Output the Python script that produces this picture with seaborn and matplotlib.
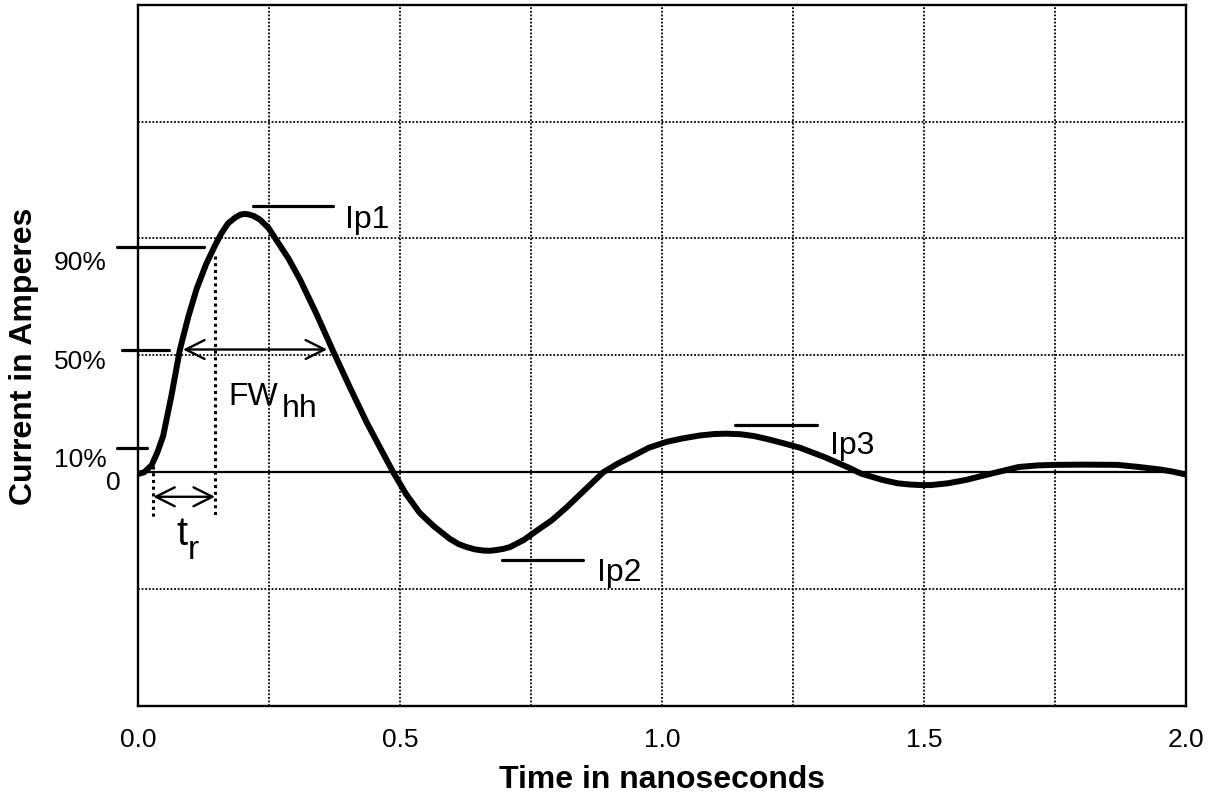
"""Pulse current waveform with rise time / FWhh annotations."""

import numpy as np
import pandas as pd
import matplotlib
matplotlib.use('Agg')
import matplotlib.pyplot as plt
import seaborn as sns


# Waveform (time in ns, current in grid units)
time_ns = [0.0, 0.012, 0.026, 0.037, 0.048, 0.064, 0.080, 0.096, 0.112, 0.130,
           0.147, 0.160, 0.172, 0.186, 0.196, 0.204, 0.212, 0.222, 0.233, 0.249,
           0.265, 0.287, 0.309, 0.340, 0.373, 0.405, 0.436, 0.462, 0.487, 0.512,
           0.538, 0.564, 0.595, 0.612, 0.627, 0.643, 0.659, 0.672, 0.685, 0.698,
           0.710, 0.736, 0.761, 0.790, 0.818, 0.853, 0.888, 0.916, 0.945, 0.975,
           1.009, 1.040, 1.073, 1.100, 1.123, 1.150, 1.175, 1.200, 1.230, 1.263,
           1.310, 1.356, 1.379, 1.420, 1.450, 1.473, 1.493, 1.513, 1.545, 1.580,
           1.630, 1.681, 1.715, 1.748, 1.810, 1.869, 1.910, 1.950, 1.975, 2.000]
current = [-0.015, 0.0, 0.06, 0.17, 0.31, 0.66, 1.05, 1.33, 1.57, 1.78,
           1.94, 2.05, 2.13, 2.18, 2.205, 2.21, 2.205, 2.19, 2.16, 2.09,
           1.98, 1.83, 1.65, 1.36, 1.03, 0.72, 0.43, 0.21, 0.0, -0.19,
           -0.35, -0.46, -0.57, -0.615, -0.64, -0.66, -0.67, -0.672, -0.665, -0.655,
           -0.64, -0.58, -0.50, -0.41, -0.30, -0.15, 0.0, 0.075, 0.14, 0.21,
           0.26, 0.29, 0.315, 0.327, 0.33, 0.325, 0.31, 0.285, 0.25, 0.21,
           0.13, 0.04, -0.01, -0.065, -0.095, -0.105, -0.11, -0.11, -0.095, -0.066,
           -0.01, 0.045, 0.058, 0.063, 0.065, 0.063, 0.045, 0.024, 0.005, -0.02]

xtick_vals = [0.0, 0.5, 1.0, 1.5, 2.0]
xtick_labels = ['0.0', '0.5', '1.0', '1.5', '2.0']

# Level markers on the left
level_labels = ['90%', '50%', '10%']
level_values = [1.93, 1.05, 0.21]
level_text_y = [1.80, 0.95, 0.11]
level_line_x0 = [-0.040, -0.031, -0.040]
level_line_x1 = [0.126, 0.059, 0.017]

# Peak markers: label, bar start/end, bar level, text position
peak_labels = ['Ip1', 'Ip2', 'Ip3']
peak_bar_x0 = [0.219, 0.695, 1.139]
peak_bar_x1 = [0.372, 0.849, 1.296]
peak_bar_y = [2.28, -0.75, 0.40]
peak_text_x = [0.395, 0.876, 1.321]
peak_text_y = [2.17, -0.85, 0.23]

# rise time / full width markers
tr_start, tr_end = 0.029, 0.147
fw_start, fw_end = 0.086, 0.361


def setup_style():
    sns.set_theme(style='white')
    plt.rcParams['font.family'] = ['Liberation Sans', 'DejaVu Sans']
    plt.rcParams.update({
        'axes.edgecolor': 'black',
        'axes.linewidth': 1.7,
        'text.color': 'black',
        'axes.labelcolor': 'black',
        'xtick.color': 'black',
        'ytick.color': 'black',
    })


setup_style()
fig, ax = plt.subplots(figsize=(12.17, 8.03), dpi=100)
fig.subplots_adjust(left=138 / 1217, right=1186 / 1217,
                    top=1 - 5.7 / 803, bottom=1 - 707 / 803)

df = pd.DataFrame({'t': time_ns, 'i': current})
sns.lineplot(data=df, x='t', y='i', sort=False, estimator=None,
             color='black', linewidth=4.3, ax=ax, zorder=5)

ax.set_xlim(0, 2)
ax.set_ylim(-2, 4)

# grid
grid_x = np.round(np.arange(0, 2.01, 0.25), 2)
ax.set_xticks(grid_x)
ax.set_xticklabels([xtick_labels[xtick_vals.index(v)] if v in xtick_vals else ''
                    for v in grid_x], fontsize=19)
ax.set_yticks(range(-2, 5))
ax.set_yticklabels([])
ax.tick_params(axis='both', length=0)
ax.tick_params(axis='x', pad=15)
ax.grid(True, color='black', linewidth=1.3, linestyle=(0, (1, 1)))
ax.axhline(0, color='black', linewidth=1.6, zorder=3)
for s in ax.spines.values():
    s.set_visible(True)
    s.set_color('black')

ax.set_xlabel('Time in nanoseconds', fontsize=23, fontweight='bold')
ax.set_ylabel('Current in Amperes', fontsize=23, fontweight='bold')
ax.xaxis.set_label_coords(0.5, -0.083)
ax.yaxis.set_label_coords(-0.094, 0.5)

# level markers
for lab, lv, ty, x0, x1 in zip(level_labels, level_values, level_text_y,
                               level_line_x0, level_line_x1):
    ax.plot([x0, x1], [lv, lv], color='black', lw=2.3, clip_on=False)
    ax.text(-0.059, ty, lab, fontsize=19, ha='right', va='center')
ax.text(-0.034, -0.08, '0', fontsize=19, ha='right', va='center')

# peak markers
for lab, x0, x1, by, tx, ty in zip(peak_labels, peak_bar_x0, peak_bar_x1,
                                   peak_bar_y, peak_text_x, peak_text_y):
    ax.plot([x0, x1], [by, by], color='black', lw=2.3)
    ax.text(tx, ty, lab, fontsize=23, ha='left', va='center')

# rise time
ax.plot([tr_start, tr_start], [0.05, -0.38], color='black', lw=2.2,
        linestyle=(0, (1, 1.2)))
ax.plot([tr_end, tr_end], [1.85, -0.38], color='black', lw=2.2,
        linestyle=(0, (1, 1.2)))
ax.annotate('', xy=(tr_start, -0.21), xytext=(tr_end, -0.21),
            arrowprops=dict(arrowstyle='<->', lw=1.7, color='black',
                            mutation_scale=34, shrinkA=0, shrinkB=0))
ax.text(0.094, -0.52, 't', fontsize=29, ha='right', va='center')
ax.text(0.094, -0.66, 'r', fontsize=24, ha='left', va='center')

# full width at half height
ax.annotate('', xy=(fw_start, 1.05), xytext=(fw_end, 1.05),
            arrowprops=dict(arrowstyle='<->', lw=1.7, color='black',
                            mutation_scale=34, shrinkA=0, shrinkB=0))
ax.text(0.172, 0.58, 'FW', fontsize=23, ha='left', va='baseline')
ax.text(0.274, 0.48, 'hh', fontsize=23, ha='left', va='baseline')

fig.savefig('out.png', dpi=100)
